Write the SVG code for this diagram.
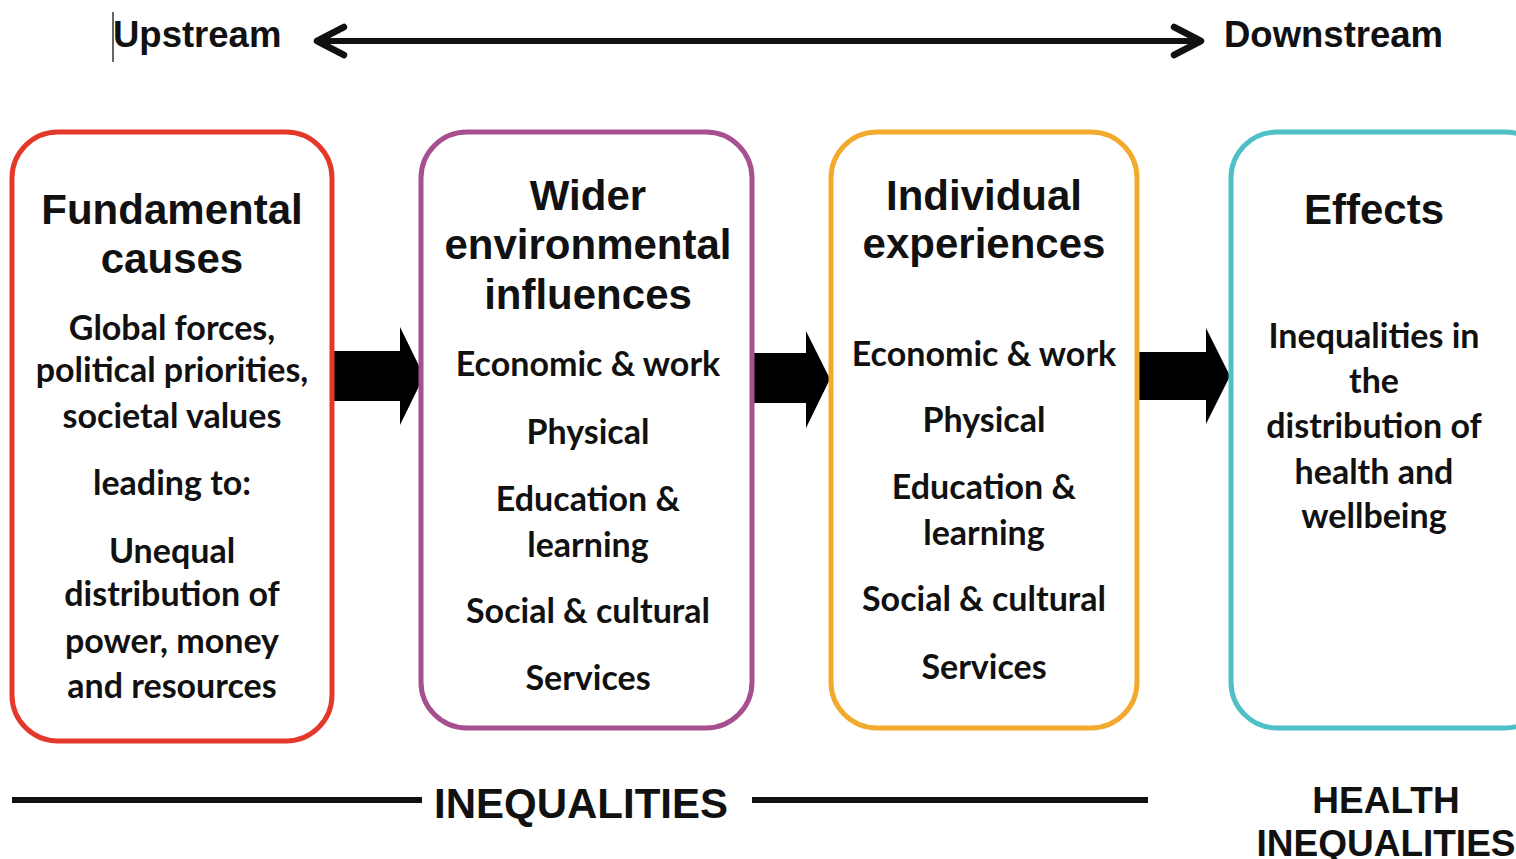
<svg xmlns="http://www.w3.org/2000/svg" width="1516" height="859" viewBox="0 0 1516 859">
<style>
.h{font-family:"Liberation Sans",Arial,sans-serif;font-weight:bold;font-size:42px;fill:#111;text-anchor:middle}
.b{font-family:Lato,"Open Sans",sans-serif;font-weight:bold;font-size:34px;fill:#111;text-anchor:middle}
.t{font-family:"Liberation Sans",Arial,sans-serif;font-weight:bold;fill:#111}
.box{fill:#fff;stroke-width:5}
</style>
<defs>
<marker id="chev" viewBox="0 0 36 36" refX="27" refY="18" markerWidth="36" markerHeight="36" markerUnits="userSpaceOnUse" orient="auto-start-reverse">
<path d="M4 4 L31 18 L4 32" fill="none" stroke="#111" stroke-width="6.5" stroke-linecap="round" stroke-linejoin="round"/>
</marker>
</defs>
<rect width="1516" height="859" fill="#fff"/>
<line x1="113" y1="12" x2="113" y2="62" stroke="#333" stroke-width="1.5"/>
<text class="t" x="113" y="47" font-size="36.5">Upstream</text>
<text class="t" x="1224" y="47" font-size="36.5">Downstream</text>
<g id="connectors">
<line x1="321" y1="41" x2="1197" y2="41" stroke="#111" stroke-width="6" marker-start="url(#chev)" marker-end="url(#chev)"/>
<path d="M333 351 H400 V327 L424 376 L400 425 V401 H333 Z" fill="#000"/>
<path d="M752 353 H806 V331 L830 379 L806 428 V403 H752 Z" fill="#000"/>
<path d="M1137 352 H1206 V328 L1230 376 L1206 424 V400 H1137 Z" fill="#000"/>
</g>
<g id="fundamental">
<rect class="box" x="12" y="132" width="320" height="609" rx="46" stroke="#e4382b"/>
<text class="h" x="172" y="224">Fundamental</text>
<text class="h" x="172" y="273">causes</text>
<text class="b" x="172" y="340">Global forces,</text>
<text class="b" x="172" y="382">political priorities,</text>
<text class="b" x="172" y="428">societal values</text>
<text class="b" x="172" y="495">leading to:</text>
<text class="b" x="172" y="563">Unequal</text>
<text class="b" x="172" y="606">distribution of</text>
<text class="b" x="172" y="653">power, money</text>
<text class="b" x="172" y="698">and resources</text>
</g>
<g id="wider">
<rect class="box" x="421" y="132" width="331" height="596" rx="46" stroke="#a6508f"/>
<text class="h" x="588" y="210">Wider</text>
<text class="h" x="588" y="259">environmental</text>
<text class="h" x="588" y="309">influences</text>
<text class="b" x="588" y="376">Economic &amp; work</text>
<text class="b" x="588" y="444">Physical</text>
<text class="b" x="588" y="511">Education &amp;</text>
<text class="b" x="588" y="557">learning</text>
<text class="b" x="588" y="623">Social &amp; cultural</text>
<text class="b" x="588" y="690">Services</text>
</g>
<g id="individual">
<rect class="box" x="831" y="132" width="306" height="596" rx="46" stroke="#f3a92e"/>
<text class="h" x="984" y="210">Individual</text>
<text class="h" x="984" y="258">experiences</text>
<text class="b" x="984" y="366">Economic &amp; work</text>
<text class="b" x="984" y="432">Physical</text>
<text class="b" x="984" y="499">Education &amp;</text>
<text class="b" x="984" y="545">learning</text>
<text class="b" x="984" y="611">Social &amp; cultural</text>
<text class="b" x="984" y="679">Services</text>
</g>
<g id="effects">
<rect class="box" x="1231" y="132" width="320" height="596" rx="46" stroke="#4fbfc8"/>
<text class="h" x="1374" y="224">Effects</text>
<text class="b" x="1374" y="348">Inequalities in</text>
<text class="b" x="1374" y="393">the</text>
<text class="b" x="1374" y="438">distribution of</text>
<text class="b" x="1374" y="484">health and</text>
<text class="b" x="1374" y="528">wellbeing</text>
</g>
<g id="bottom">
<line x1="12" y1="800" x2="422" y2="800" stroke="#111" stroke-width="6"/>
<line x1="752" y1="800" x2="1148" y2="800" stroke="#111" stroke-width="6"/>
<text class="t" x="434" y="818" font-size="42">INEQUALITIES</text>
<text class="t" x="1386" y="813" font-size="37" text-anchor="middle">HEALTH</text>
<text class="t" x="1386" y="856" font-size="37" text-anchor="middle">INEQUALITIES</text>
</g>
</svg>
